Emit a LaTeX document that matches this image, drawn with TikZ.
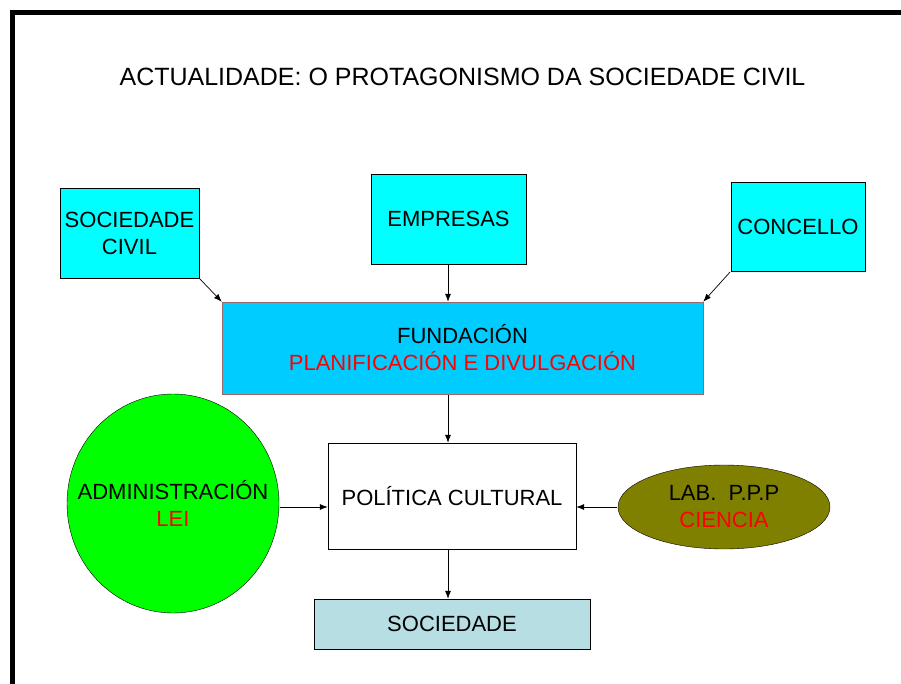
\documentclass[tikz,border=0pt]{standalone}
\usepackage{fontspec}
\setmainfont{Liberation Sans}
\usetikzlibrary{calc, shapes.geometric, arrows.meta}

\definecolor{cyanbox}{HTML}{00FFFF}
\definecolor{fundblue}{HTML}{00CCFF}
\definecolor{fundedge}{HTML}{9A6A6A}
\definecolor{admgreen}{HTML}{00FF00}
\definecolor{labolive}{HTML}{808000}
\definecolor{socpale}{HTML}{B7DFE3}

\tikzset{
	box/.style={draw, rectangle, inner sep=0pt, align=center,
		font=\fontsize{22}{27}\selectfont},
	blob/.style={draw, ellipse, inner sep=0pt, align=center,
		font=\fontsize{22}{27}\selectfont},
	link/.style={-{Latex[length=8pt,width=6pt]}, line width=0.7pt, shorten <=1pt}
}

\begin{document}
\begin{tikzpicture}[x=1pt, y=-1pt]
	\useasboundingbox (0,0) rectangle (901,684);
	% frame of the slide
	\draw[line width=5pt] (12.5,684) -- (12.5,12.5) -- (901,12.5);

	\node (TITLE) at (462.5,77) {\fontsize{25}{30}\selectfont ACTUALIDADE: O PROTAGONISMO DA SOCIEDADE CIVIL};

	% upper row
	\node[box, fill=cyanbox, minimum width=139pt, minimum height=90pt] (SOC)  at (129.5,233) {SOCIEDADE\\CIVIL};
	\node[box, fill=cyanbox, minimum width=155pt, minimum height=90pt] (EMP)  at (448.5,219) {EMPRESAS};
	\node[box, fill=cyanbox, minimum width=134pt, minimum height=89pt] (CONC) at (798,226.5) {CONCELLO};

	\node[box, fill=fundblue, draw=fundedge, minimum width=481pt, minimum height=92pt] (FUND) at (462.5,348)
		{FUNDACIÓN\\\textcolor{red}{PLANIFICACIÓN E DIVULGACIÓN}};

	% middle row
	\node[blob, fill=admgreen, inner xsep=-40pt, inner ysep=-10pt, minimum width=212pt, minimum height=219pt] (ADM) at (173,503.5)
		{ADMINISTRACIÓN\\\textcolor{red}{LEI}};
	\node[box, fill=white, minimum width=248pt, minimum height=106pt] (POL) at (452,496) {POLÍTICA CULTURAL};
	\node[blob, fill=labolive, minimum width=212pt, minimum height=84pt] (LAB) at (724,507)
		{LAB.\ \ P.P.P\\\textcolor{red}{CIENCIA}};

	\node[box, fill=socpale, minimum width=276pt, minimum height=50pt] (SOCIEDADE) at (452,624) {SOCIEDADE};

	\coordinate (AXIS) at (448,0);

	\begin{scope}[every path/.style={link}]
		\draw (SOC.south east)  -- (FUND.north west);
		\draw (CONC.south west) -- (FUND.north east);
		\draw (AXIS |- EMP.south)  -- (AXIS |- FUND.north);
		\draw (AXIS |- FUND.south) -- (AXIS |- POL.north);
		\draw (AXIS |- POL.south)  -- (AXIS |- SOCIEDADE.north);
		\draw (ADM.east |- LAB.west) -- (POL.west |- LAB.west);
		\draw (LAB.west) -- (POL.east |- LAB.west);
	\end{scope}
\end{tikzpicture}
\end{document}
